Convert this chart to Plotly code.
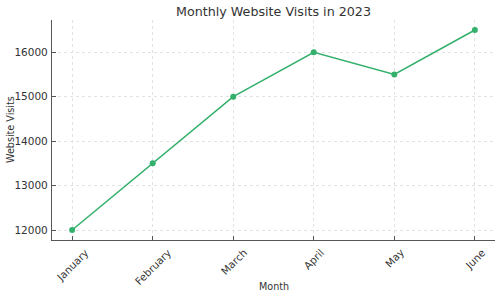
import plotly.graph_objects as go

months = ["January", "February", "March", "April", "May", "June"]
visits = [12000, 13500, 15000, 16000, 15500, 16500]
y_ticks = [12000, 13000, 14000, 15000, 16000]

L, R, T, B, W, H = 52, 5, 20, 58, 500, 298
PW, PH = W - L - R, H - T - B
color = "#33b06b"
txt = "#333333"

fig = go.Figure()
fig.add_trace(go.Scatter(
    x=list(range(len(months))), y=visits, mode="lines+markers",
    line=dict(color=color, width=1.5),
    marker=dict(color=color, size=6),
))

annotations = []
# x tick labels, rotated and centred under each tick (matplotlib style)
for i, m in enumerate(months):
    annotations.append(dict(
        x=i, xref="x", y=-5 / PH, yref="paper", text=m, showarrow=False,
        textangle=-45, xanchor="center", yanchor="top", borderpad=0,
        font=dict(size=10.3, family="DejaVu Sans", color=txt),
    ))
annotations.append(dict(
    x=0.5, xref="paper", y=(PH - (286.5 - T)) / PH, yref="paper", text="Month",
    showarrow=False, xanchor="center", yanchor="middle",
    font=dict(size=9.6, family="DejaVu Sans", color=txt),
))
annotations.append(dict(
    x=(10 - L) / PW, xref="paper", y=0.5, yref="paper", text="Website Visits",
    showarrow=False, textangle=-90, xanchor="center", yanchor="middle",
    font=dict(size=9.6, family="DejaVu Sans", color=txt),
))

fig.update_layout(
    width=W, height=H,
    margin=dict(l=L, r=R, t=T, b=B),
    paper_bgcolor="white", plot_bgcolor="white",
    showlegend=False,
    font=dict(family="DejaVu Sans", size=10.5, color=txt),
    title=dict(text="Monthly Website Visits in 2023", x=(L + W - R) / 2 / W, xanchor="center",
               y=1 - 12 / H, yanchor="middle", font=dict(size=12.7, family="DejaVu Sans", color=txt)),
    xaxis=dict(
        range=[-0.25, 5.25], tickmode="array", tickvals=list(range(len(months))),
        showticklabels=False, showline=True, linecolor="#555555", linewidth=1.2, mirror=False,
        ticks="inside", ticklen=4, tickcolor="#555555",
        showgrid=True, gridcolor="#e2e2e2", griddash="dot", gridwidth=0.8,
        zeroline=False, automargin=False,
    ),
    yaxis=dict(
        range=[11775, 16725], tickmode="array", tickvals=y_ticks, ticktext=[str(v) for v in y_ticks],
        tickfont=dict(size=10.5), ticklabelstandoff=1,
        showline=True, linecolor="#555555", linewidth=1.2, mirror=False,
        ticks="inside", ticklen=4, tickcolor="#555555",
        showgrid=True, gridcolor="#e2e2e2", griddash="dot", gridwidth=0.8,
        zeroline=False, automargin=False,
    ),
    annotations=annotations,
)

fig.write_html("out.html")
